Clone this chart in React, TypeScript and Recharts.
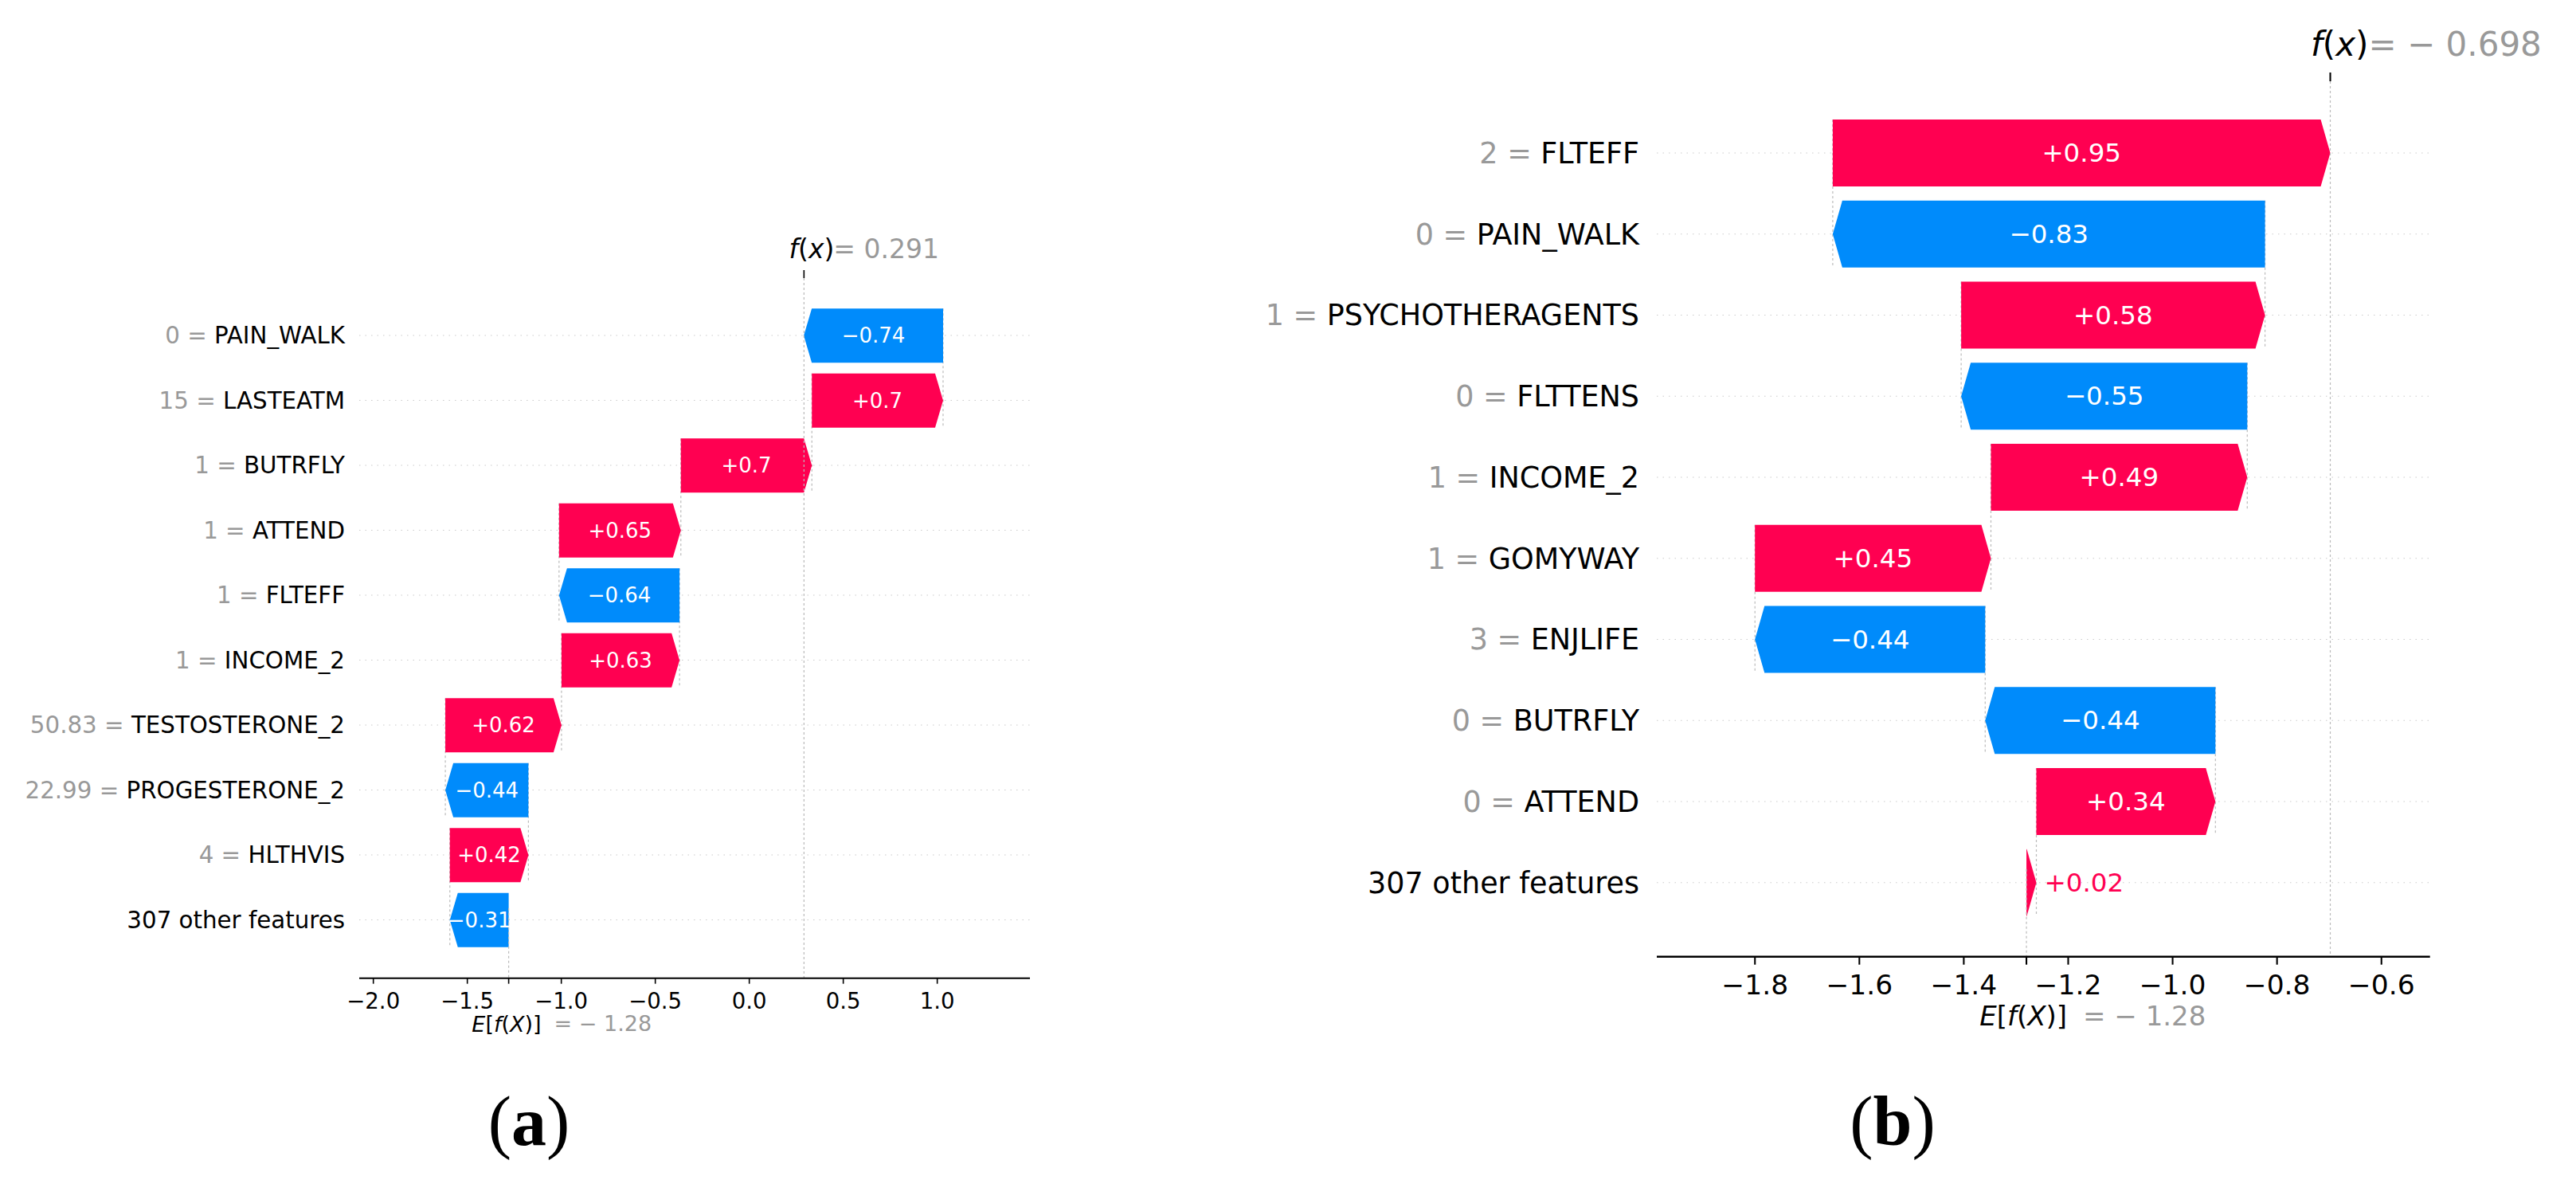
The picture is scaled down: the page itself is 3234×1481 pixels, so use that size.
import React from 'react';
import { BarChart, Bar, XAxis, YAxis, CartesianGrid, ReferenceLine } from 'recharts';

const RED = '#ff0051';
const BLUE = '#008bfb';
const GREY = '#999999';
const FONT = '"DejaVu Sans", sans-serif';

// panel (a)
const namesA = ['PAIN_WALK', 'LASTEATM', 'BUTRFLY', 'ATTEND', 'FLTEFF', 'INCOME_2', 'TESTOSTERONE_2', 'PROGESTERONE_2', 'HLTHVIS', '307 other features'];
const featA = ['0', '15', '1', '1', '1', '1', '50.83', '22.99', '4', ''];
const shapA = [-0.741, 0.698, 0.697, 0.648, -0.641, 0.628, 0.618, -0.442, 0.418, -0.313];
const baseA = -1.28;
const fxA = 0.291;
const ticksA = [-2, -1.5, -1, -0.5, 0, 0.5, 1];

// panel (b)
const namesB = ['FLTEFF', 'PAIN_WALK', 'PSYCHOTHERAGENTS', 'FLTTENS', 'INCOME_2', 'GOMYWAY', 'ENJLIFE', 'BUTRFLY', 'ATTEND', '307 other features'];
const featB = ['2', '0', '1', '0', '1', '1', '3', '0', '0', ''];
const shapB = [0.953, -0.828, 0.582, -0.548, 0.491, 0.452, -0.441, -0.441, 0.343, 0.019];
const baseB = -1.28;
const fxB = -0.698;
const ticksB = [-1.8, -1.6, -1.4, -1.2, -1.0, -0.8, -0.6];

type Row = { name: string; feat: string; shap: number; range: [number, number] };

// waterfall: bottom row starts at the base value, each row above starts where the one below ends
function buildRows(names: string[], feats: string[], shap: number[], base: number): Row[] {
  const rows: Row[] = new Array(names.length);
  let cum = base;
  for (let i = names.length - 1; i >= 0; i--) {
    const end = cum + shap[i];
    rows[i] = { name: names[i], feat: feats[i], shap: shap[i], range: [Math.min(cum, end), Math.max(cum, end)] };
    cum = end;
  }
  return rows;
}

const fmtShap = (v: number) => {
  const s = Math.abs(v).toFixed(2).replace(/0+$/, '').replace(/\.$/, '');
  return (v >= 0 ? '+' : '\u2212') + s;
};
const fmtTick = (v: number) => (v < 0 ? '\u2212' : '') + Math.abs(v).toFixed(1);
const fmtOut = (v: number) => (v < 0 ? '\u2212 ' : '') + Math.abs(v).toFixed(3);
const fmtBase = (v: number) => (v < 0 ? '\u2212 ' : '') + Math.abs(v).toFixed(2);

const cfgA = {
  left: 0, width: 1350, height: 1340,
  yAxisW: 451, marginTop: 289, marginRight: 57, marginBottom: 22.3,
  topH: 60, bottomH: 90, padTop: 31.25, padBottom: 32.45,
  band: 81.5, barSize: 68, head: 10,
  fsLabel: 29.3, fsTick: 27.6, fsVal: 26, fsFx: 33, fsE: 27,
  tickLen: 7, topTickLen: 10, labelGap: 18, axisW: 2,
  fxDy: -27, fxEnd: 38, fxStart: 37,
  tickDy: 21.3, eDy: 50, eEnd: 41, eStart: 57, outGap: 8,
  domain: [-2.075, 1.493] as [number, number],
};

const cfgB = {
  left: 1550, width: 1684, height: 1340,
  yAxisW: 530, marginTop: 22, marginRight: 183.3, marginBottom: 29.3,
  topH: 80, bottomH: 110, padTop: 39.1, padBottom: 42.1,
  band: 101.75, barSize: 84, head: 12,
  fsLabel: 36.5, fsTick: 34.5, fsVal: 32.5, fsFx: 42, fsE: 34,
  tickLen: 10, topTickLen: 11, labelGap: 22, axisW: 2.6,
  fxDy: -36, fxEnd: 48, fxStart: 48,
  tickDy: 24.8, eDy: 64, eEnd: 51, eStart: 71, outGap: 10,
  domain: [-1.988, -0.507] as [number, number],
};

type Cfg = typeof cfgA;

function Waterfall({ rows, cfg, base, fx, ticks }: { rows: Row[]; cfg: Cfg; base: number; fx: number; ticks: number[] }) {
  const byName = new Map(rows.map((r) => [r.name, r]));

  const YTick = (p: any) => {
    const r = byName.get(p.payload.value);
    return (
      <text x={p.x} y={p.y} textAnchor="end" dominantBaseline="central" fontFamily={FONT} fontSize={cfg.fsLabel}>
        {r && r.feat ? <tspan fill={GREY}>{`${r.feat} = `}</tspan> : null}
        <tspan fill="#000000">{p.payload.value}</tspan>
      </text>
    );
  };

  const XTick = (p: any) => {
    const v = p.payload.value;
    if (Math.abs(v - base) < 1e-9) {
      return (
        <g>
          <text x={p.x + cfg.eEnd} y={p.y + cfg.eDy} textAnchor="end" dominantBaseline="central" fontFamily={FONT} fontSize={cfg.fsE} fill="#000000">
            <tspan fontStyle="italic">E</tspan>[<tspan fontStyle="italic">f</tspan>(<tspan fontStyle="italic">X</tspan>)]
          </text>
          <text x={p.x + cfg.eStart} y={p.y + cfg.eDy} textAnchor="start" dominantBaseline="central" fontFamily={FONT} fontSize={cfg.fsE} fill={GREY}>
            {`= ${fmtBase(base)}`}
          </text>
        </g>
      );
    }
    return (
      <text x={p.x} y={p.y + cfg.tickDy} textAnchor="middle" dominantBaseline="central" fontFamily={FONT} fontSize={cfg.fsTick} fill="#000000">
        {fmtTick(v)}
      </text>
    );
  };

  const FxTick = (p: any) => (
    <g>
      <text x={p.x + cfg.fxEnd} y={p.y + cfg.fxDy} textAnchor="end" dominantBaseline="central" fontFamily={FONT} fontSize={cfg.fsFx} fill="#000000">
        <tspan fontStyle="italic">f</tspan>(<tspan fontStyle="italic">x</tspan>)
      </text>
      <text x={p.x + cfg.fxStart} y={p.y + cfg.fxDy} textAnchor="start" dominantBaseline="central" fontFamily={FONT} fontSize={cfg.fsFx} fill={GREY}>
        {`= ${fmtOut(fx)}`}
      </text>
    </g>
  );

  const Arrow = (props: any) => {
    const { x, y, width, height, payload, index } = props;
    if (x == null || width == null) return null;
    const pos = payload.shap >= 0;
    const color = pos ? RED : BLUE;
    const x0 = Math.min(x, x + width);
    const w = Math.abs(width);
    const head = Math.min(cfg.head, w);
    const my = y + height / 2;
    const pts = pos
      ? [[x0, y], [x0 + w - head, y], [x0 + w, my], [x0 + w - head, y + height], [x0, y + height]]
      : [[x0 + w, y], [x0 + head, y], [x0, my], [x0 + head, y + height], [x0 + w, y + height]];
    const tail = pos ? x0 : x0 + w;
    const label = fmtShap(payload.shap);
    const inside = w > label.length * 0.62 * cfg.fsVal * 0.6;
    return (
      <g>
        {index < rows.length - 1 ? (
          <line x1={tail} x2={tail} y1={y} y2={y + cfg.band + height} stroke="#bbbbbb" strokeWidth={1.2} strokeDasharray="3 3" />
        ) : null}
        <polygon points={pts.map((q) => q.join(',')).join(' ')} fill={color} />
        {inside ? (
          <text x={x0 + w / 2} y={my} textAnchor="middle" dominantBaseline="central" fontFamily={FONT} fontSize={cfg.fsVal} fill="#ffffff">
            {label}
          </text>
        ) : (
          <text x={pos ? x0 + w + cfg.outGap : x0 - cfg.outGap} y={my} textAnchor={pos ? 'start' : 'end'} dominantBaseline="central" fontFamily={FONT} fontSize={cfg.fsVal} fill={color}>
            {label}
          </text>
        )}
      </g>
    );
  };

  const BaseLine = (p: any) => {
    const bottom = Math.max(p.y1, p.y2);
    const top = Math.min(p.y1, p.y2);
    return <line x1={p.x1} x2={p.x2} y1={bottom - (bottom - top) / rows.length} y2={bottom} stroke="#bbbbbb" strokeWidth={1.2} strokeDasharray="3 3" />;
  };

  return (
    <div style={{ position: 'absolute', left: cfg.left, top: 0 }}>
      <BarChart
        width={cfg.width}
        height={cfg.height}
        data={rows}
        layout="vertical"
        margin={{ top: cfg.marginTop, right: cfg.marginRight, bottom: cfg.marginBottom, left: 0 }}
      >
        <CartesianGrid horizontal vertical={false} syncWithTicks stroke="#cccccc" strokeWidth={1.2} strokeDasharray="1.5 6" />
        <XAxis
          type="number"
          domain={cfg.domain}
          allowDataOverflow
          ticks={[...ticks, base]}
          interval={0}
          height={cfg.bottomH}
          tickSize={cfg.tickLen}
          tickMargin={0}
          axisLine={{ stroke: '#000000', strokeWidth: cfg.axisW }}
          tickLine={{ stroke: '#000000', strokeWidth: cfg.axisW * 0.8 }}
          tick={XTick}
        />
        <XAxis
          xAxisId="top"
          orientation="top"
          type="number"
          domain={cfg.domain}
          allowDataOverflow
          ticks={[fx]}
          interval={0}
          height={cfg.topH}
          tickSize={cfg.topTickLen}
          tickMargin={0}
          axisLine={false}
          tickLine={{ stroke: '#000000', strokeWidth: cfg.axisW * 0.8 }}
          tick={FxTick}
        />
        <YAxis
          type="category"
          dataKey="name"
          width={cfg.yAxisW}
          interval={0}
          axisLine={false}
          tickLine={false}
          tickSize={0}
          tickMargin={cfg.labelGap}
          padding={{ top: cfg.padTop, bottom: cfg.padBottom }}
          tick={YTick}
        />
        <ReferenceLine xAxisId="top" x={fx} stroke="#bbbbbb" strokeWidth={1.2} strokeDasharray="3 3" />
        <ReferenceLine x={base} shape={BaseLine} />
        <Bar dataKey="range" barSize={cfg.barSize} shape={Arrow} isAnimationActive={false} />
      </BarChart>
    </div>
  );
}

export default function App() {
  const rowsA = buildRows(namesA, featA, shapA, baseA);
  const rowsB = buildRows(namesB, featB, shapB, baseB);
  const capFont = '"Liberation Serif", "DejaVu Serif", serif';
  return (
    <div style={{ position: 'absolute', left: 0, top: 0, width: 3234, height: 1481, background: '#ffffff', overflow: 'hidden' }}>
      <Waterfall rows={rowsA} cfg={cfgA} base={baseA} fx={fxA} ticks={ticksA} />
      <Waterfall rows={rowsB} cfg={cfgB} base={baseB} fx={fxB} ticks={ticksB} />
      <svg width={3234} height={1481} style={{ position: 'absolute', left: 0, top: 0, pointerEvents: 'none' }}>
        <text x={664} y={1437} textAnchor="middle" fontFamily={capFont} fontSize={88} fill="#000000">
          (<tspan fontWeight="bold">a</tspan>)
        </text>
        <text x={2376} y={1437} textAnchor="middle" fontFamily={capFont} fontSize={88} fill="#000000">
          (<tspan fontWeight="bold">b</tspan>)
        </text>
      </svg>
    </div>
  );
}
